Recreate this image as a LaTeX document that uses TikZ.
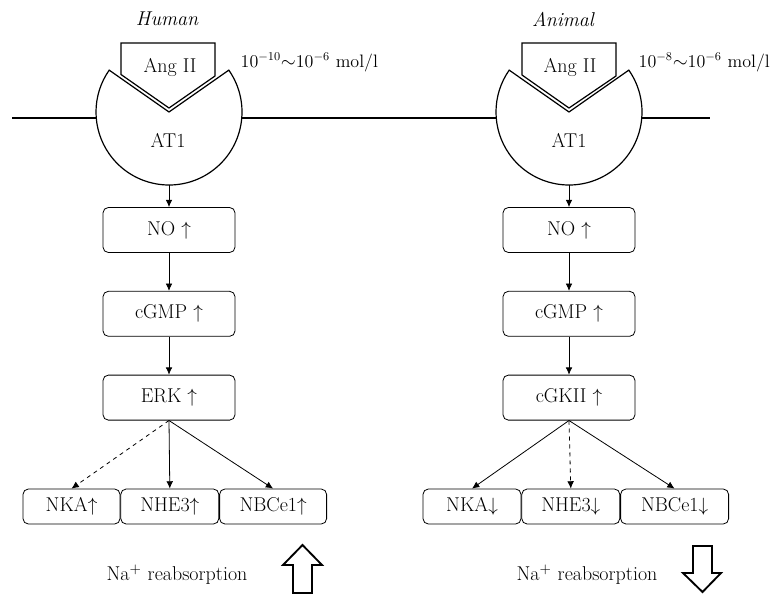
\documentclass[tikz,border=0pt]{standalone}
\usepackage{fontspec}
\usepackage{amsmath}
\usepackage{amssymb}
\usepackage{tikz}
\usetikzlibrary{arrows.meta}
\usetikzlibrary{positioning}
\tikzset{
    membrane/.style={draw=black, line width=1.5pt},
    receptor/.style={draw=black, fill=white, line width=0.9pt},
    species/.style={font=\fontsize{15}{17}\selectfont\itshape},
    dose/.style={anchor=west, font=\fontsize{13.5}{16}\selectfont},
    signal/.style={draw=black, rounded corners=4pt, line width=0.6pt,
        minimum width=99pt, minimum height=33.75pt},
    transporter/.style={draw=black, rounded corners=4pt, line width=0.6pt,
        minimum height=26.25pt},
    activates/.style={draw=black, line width=0.6pt,
        -{Latex[length=5.5pt,width=5pt]}},
    weakly/.style={activates, dashed},
    reabsorb/.style={draw=black, line width=1.4pt, line join=miter},
}

\begin{document}
\begin{tikzpicture}[x=0.75pt, y=-0.75pt, font=\fontsize{15}{17}\selectfont]
	\useasboundingbox (0,0) rectangle (779,594);
	% membrane
	\coordinate (memW) at (12,118);
	\coordinate (memE) at (710,118);
	\draw[membrane] (memW) -- (memE);

	% human receptor
	\node[species] (human) at (167,19) {Human};
	\draw[receptor] (121,43) -- (215,43) -- (215,76) -- (169,108) -- (121,74.5) -- cycle;
	\draw[receptor] (169,112) -- ++(-35:73) arc[start angle=-35, end angle=215, radius=73] -- cycle;
	\node[circle, minimum size=109.5pt, inner sep=0pt] (recL) at (169,112) {};
	\node (angL) at (170,67) {Ang II};
	\node (at1L) at (168,140) {AT1};
	\node[dose] (concL) at (236,62) {10$^{-10}$$\sim$10$^{-6}$ mol/l};

	% animal receptor
	\node[species] (animal) at (563,19) {Animal};
	\draw[receptor] (522,43) -- (616,43) -- (616,76) -- (569,108) -- (522,75) -- cycle;
	\draw[receptor] (569,112) -- ++(-35:73) arc[start angle=-35, end angle=215, radius=73] -- cycle;
	\node[circle, minimum size=109.5pt, inner sep=0pt] (recR) at (569,112) {};
	\node (angR) at (570,67) {Ang II};
	\node (at1R) at (569,140) {AT1};
	\node[dose] (concR) at (634,62) {10$^{-8}$$\sim$10$^{-6}$ mol/l};

	% human cascade
	\node[signal] (noL) at (169,230) {NO $\uparrow$};
	\node[signal, below=28.5pt of noL] (cgmpL) {cGMP $\uparrow$};
	\node[signal, below=28.5pt of cgmpL] (erkL) {ERK $\uparrow$};
	\node[transporter, minimum width=72.75pt] (nkaL) at (71.5,506.5) {NKA$\uparrow$};
	\node[transporter, minimum width=73.5pt, right=0pt of nkaL] (nheL) {NHE3$\uparrow$};
	\node[transporter, minimum width=80.25pt, right=0pt of nheL] (nbcL) {NBCe1$\uparrow$};
	\draw[activates] (recL.south) -- (noL);
	\draw[activates] (noL) -- (cgmpL);
	\draw[activates] (cgmpL) -- (erkL);
	\draw[weakly] (erkL.south) -- (nkaL.north);
	\draw[activates] (erkL.south) -- (nheL.north);
	\draw[activates] (erkL.south) -- (nbcL.north);

	% animal cascade
	\node[signal] (noR) at (569,230) {NO $\uparrow$};
	\node[signal, below=28.5pt of noR] (cgmpR) {cGMP $\uparrow$};
	\node[signal, below=28.5pt of cgmpR] (cgkR) {cGKII $\uparrow$};
	\node[transporter, minimum width=73.5pt] (nkaR) at (472,506.5) {NKA$\downarrow$};
	\node[transporter, minimum width=73.5pt, right=0pt of nkaR] (nheR) {NHE3$\downarrow$};
	\node[transporter, minimum width=81pt, right=0pt of nheR] (nbcR) {NBCe1$\downarrow$};
	\draw[activates] (recR.south) -- (noR);
	\draw[activates] (noR) -- (cgmpR);
	\draw[activates] (cgmpR) -- (cgkR);
	\draw[activates] (cgkR.south) -- (nkaR.north);
	\draw[weakly] (cgkR.south) -- (nheR.north);
	\draw[activates] (cgkR.south) -- (nbcR.north);

	% sodium reabsorption
	\node (naL) at (177,575) {Na$^+$ reabsorption};
	\node (naR) at (587,575) {Na$^+$ reabsorption};
	\draw[reabsorb] (283,565) -- (302.5,545) -- (322,565) -- (312,565) -- (312,593) -- (293,593) -- (293,565) -- cycle;
	\draw[reabsorb] (693,546) -- (712,546) -- (712,573) -- (721,573) -- (702.5,592) -- (683,573) -- (693,573) -- cycle;
\end{tikzpicture}
\end{document}
